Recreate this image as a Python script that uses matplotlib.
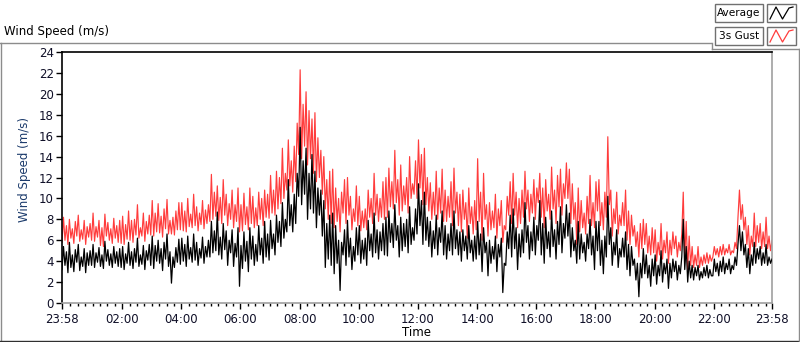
import matplotlib
matplotlib.use("Agg")
import matplotlib.pyplot as plt
from matplotlib.lines import Line2D
from matplotlib.patches import Rectangle
from matplotlib.ticker import FixedLocator

plt.rcParams['font.family'] = ['DejaVu Sans']

# ---- data (one sample every 3 minutes, starting 23:58 of previous day) ----
step_min = 3
start_min = -2

average = [
    3.2, 5.4, 3.6, 4.9, 2.9, 5.8, 3.4, 4.6, 3.0, 5.1, 3.9, 5.6, 3.1, 4.4, 3.5, 5.2, 2.9, 4.8, 3.6, 5.0,
    3.6, 5.6, 3.4, 4.8, 3.9, 5.3, 3.5, 4.6, 3.3, 5.9, 4.0, 5.1, 3.6, 4.7, 3.4, 5.4, 3.8, 4.9, 3.5, 5.2,
    3.4, 5.4, 3.2, 4.7, 3.8, 5.8, 3.6, 4.9, 3.3, 5.2, 3.9, 6.2, 3.5, 4.6, 3.7, 5.5, 3.2, 5.0, 4.1, 5.6,
    3.6, 6.4, 3.3, 5.5, 4.0, 6.0, 3.8, 5.2, 3.1, 5.8, 4.2, 6.6, 3.5, 4.9, 1.9, 4.4, 3.4, 5.3, 3.9, 6.1,
    3.7, 6.2, 4.0, 5.6, 3.5, 6.4, 4.2, 5.3, 3.9, 6.6, 4.1, 5.8, 3.6, 5.2, 4.3, 6.3, 3.8, 5.4, 4.4, 6.0,
    4.4, 7.8, 4.8, 6.9, 5.0, 8.7, 4.6, 6.3, 4.2, 7.6, 5.1, 6.9, 3.6, 6.0, 4.8, 7.0, 3.5, 5.7, 4.4, 7.2,
    1.6, 5.5, 3.3, 6.8, 4.0, 5.9, 3.0, 7.2, 4.2, 6.4, 3.6, 5.6, 4.0, 7.4, 4.6, 6.2, 3.8, 7.8, 4.4, 6.6,
    4.1, 7.9, 5.2, 6.6, 4.6, 8.4, 5.8, 7.8, 5.4, 9.6, 6.2, 8.0, 6.8, 11.8, 7.4, 9.4, 6.8, 10.4, 7.6, 12.4,
    10.2, 16.8, 9.4, 13.6, 10.4, 14.8, 8.0, 12.4, 9.0, 14.2, 8.6, 12.6, 7.2, 11.0, 8.4, 10.8, 6.4, 9.8, 3.4, 7.6,
    4.2, 8.4, 3.6, 8.6, 2.8, 7.4, 3.8, 6.0, 1.2, 5.8, 4.6, 7.0, 3.6, 7.9, 4.4, 6.2, 3.2, 5.4, 4.0, 7.2,
    4.6, 7.4, 3.8, 6.0, 4.2, 6.2, 3.6, 7.9, 5.0, 6.6, 4.4, 8.6, 4.8, 7.0, 4.2, 6.8, 5.0, 7.6, 4.6, 8.2,
    4.5, 8.8, 5.8, 7.6, 5.3, 9.4, 6.0, 7.4, 4.4, 8.2, 5.0, 7.6, 5.4, 8.0, 4.8, 9.2, 5.6, 7.2, 6.0, 9.0,
    6.6, 11.4, 7.4, 9.8, 5.6, 10.6, 6.0, 8.2, 5.4, 7.8, 4.4, 6.9, 5.2, 8.4, 4.6, 7.2, 5.8, 8.8, 4.6, 7.4,
    4.2, 6.6, 5.0, 7.6, 4.6, 8.8, 5.2, 7.0, 4.6, 6.8, 4.0, 7.0, 5.0, 6.4, 4.2, 7.4, 4.8, 6.0, 4.0, 6.4,
    4.2, 7.8, 4.6, 6.6, 3.0, 7.2, 4.8, 5.8, 2.6, 6.0, 3.8, 5.4, 4.2, 6.4, 3.0, 5.6, 4.4, 6.2, 1.0, 3.8,
    3.6, 6.8, 5.2, 8.4, 4.4, 9.0, 5.2, 7.2, 3.2, 6.6, 4.4, 7.0, 4.8, 9.6, 5.8, 7.4, 4.2, 6.8, 5.0, 8.2,
    4.6, 7.4, 6.0, 9.8, 4.6, 7.6, 3.8, 8.2, 5.2, 6.8, 4.4, 8.8, 5.4, 7.0, 4.2, 7.8, 5.6, 9.2, 4.8, 7.6,
    6.2, 9.4, 6.4, 8.6, 4.4, 7.2, 5.0, 6.0, 3.8, 7.8, 4.2, 6.6, 4.8, 5.8, 4.0, 6.6, 5.2, 8.0, 4.6, 6.4,
    3.2, 7.8, 5.0, 7.8, 3.6, 6.0, 2.8, 6.4, 4.4, 10.2, 5.6, 7.2, 3.6, 5.8, 4.6, 7.0, 3.4, 5.2, 4.4, 6.2,
    4.4, 6.8, 3.2, 5.6, 2.6, 5.4, 3.6, 4.2, 2.2, 3.8, 0.6, 3.8, 2.4, 5.2, 2.8, 4.6, 2.4, 3.6, 1.6, 4.2,
    2.6, 4.6, 1.8, 3.6, 2.6, 5.0, 2.0, 3.8, 2.8, 4.2, 1.4, 3.8, 2.4, 4.2, 3.0, 4.0, 2.2, 3.6, 2.8, 4.4,
    8.0, 3.2, 5.4, 2.0, 4.0, 2.4, 3.6, 2.2, 3.4, 2.6, 3.6, 2.2, 3.0, 2.4, 3.4, 2.6, 3.6, 2.4, 3.2, 2.6,
    2.6, 4.2, 3.0, 3.8, 2.6, 4.0, 3.0, 4.4, 2.8, 3.8, 3.2, 4.2, 2.8, 3.6, 3.2, 4.4, 3.6, 5.6, 7.4, 5.0,
    6.8, 4.6, 5.6, 3.4, 5.2, 2.8, 4.6, 3.6, 5.8, 3.8, 5.2, 4.2, 5.4, 3.6, 4.8, 3.8, 5.6, 3.6, 4.4, 3.8, 4.2,
]

gust = [
    5.8, 8.2, 6.0, 7.4, 5.6, 8.0, 6.2, 7.1, 5.7, 7.8, 6.4, 8.4, 5.9, 7.0, 6.1, 7.9, 5.6, 7.3, 6.3, 7.6,
    6.0, 8.6, 5.9, 7.3, 6.3, 7.9, 5.5, 7.2, 5.4, 8.5, 6.4, 7.7, 6.0, 7.1, 5.7, 8.1, 6.2, 7.4, 5.8, 7.9,
    5.7, 8.3, 5.6, 7.5, 6.1, 8.8, 6.0, 7.9, 5.8, 8.0, 6.5, 9.4, 6.2, 7.2, 6.4, 8.6, 5.9, 7.8, 6.6, 8.4,
    6.5, 9.8, 6.4, 8.6, 6.8, 9.5, 6.7, 8.3, 6.3, 9.0, 7.1, 9.9, 6.6, 7.9, 6.6, 8.2, 6.5, 8.8, 7.0, 9.6,
    7.0, 9.6, 6.9, 8.8, 6.8, 10.0, 7.3, 8.5, 7.2, 10.4, 7.4, 9.2, 6.9, 8.6, 7.5, 9.8, 7.1, 8.9, 7.6, 9.4,
    7.8, 12.3, 8.0, 10.6, 8.3, 11.2, 7.9, 10.1, 7.6, 11.8, 8.4, 10.4, 7.4, 9.5, 8.0, 10.8, 7.2, 9.4, 7.8, 11.0,
    6.8, 9.4, 6.9, 10.5, 7.5, 9.2, 7.0, 11.0, 7.6, 10.2, 7.2, 9.1, 7.4, 10.6, 8.0, 10.0, 7.4, 10.8, 8.2, 10.4,
    8.1, 12.2, 8.6, 10.8, 8.4, 12.6, 9.0, 12.0, 9.5, 14.8, 10.0, 12.4, 10.8, 15.6, 11.2, 13.6, 10.6, 15.0, 11.6, 17.2,
    14.2, 22.3, 13.8, 19.0, 15.0, 20.2, 13.2, 18.4, 13.8, 17.6, 12.4, 18.2, 11.6, 15.8, 12.0, 14.6, 10.4, 14.0, 9.0, 11.8,
    8.0, 12.6, 7.6, 12.8, 7.2, 11.0, 7.8, 10.0, 6.8, 10.6, 8.6, 11.8, 7.6, 12.0, 8.4, 10.2, 7.0, 9.0, 7.8, 11.2,
    7.4, 10.2, 6.9, 8.8, 7.2, 9.0, 7.0, 10.8, 8.2, 10.0, 7.6, 12.4, 8.4, 10.4, 7.8, 10.0, 8.2, 11.6, 8.0, 12.0,
    8.2, 12.9, 9.2, 11.6, 9.0, 14.6, 9.6, 11.8, 8.4, 13.2, 8.8, 11.2, 9.4, 12.0, 8.6, 14.0, 10.0, 11.4, 10.4, 13.6,
    10.0, 15.6, 11.0, 14.2, 9.4, 14.8, 9.4, 12.0, 8.8, 11.5, 8.0, 10.6, 8.4, 12.6, 8.0, 11.0, 8.6, 12.8, 7.8, 10.8,
    7.8, 10.2, 8.2, 11.6, 7.4, 12.9, 8.6, 10.6, 7.4, 10.4, 6.8, 10.8, 8.0, 9.6, 6.2, 11.0, 7.6, 9.2, 6.6, 9.8,
    7.0, 13.8, 7.8, 10.6, 6.0, 12.4, 8.0, 9.4, 6.4, 9.6, 7.0, 8.8, 7.2, 10.4, 6.2, 9.0, 7.4, 9.8, 5.8, 7.4,
    7.0, 10.2, 8.4, 11.6, 7.6, 12.4, 8.4, 10.6, 7.2, 10.0, 7.6, 10.8, 8.2, 12.6, 9.0, 10.8, 7.8, 10.4, 8.6, 11.8,
    8.0, 11.0, 9.6, 12.4, 8.2, 11.0, 7.2, 11.8, 8.8, 10.4, 8.0, 13.0, 9.0, 10.8, 7.6, 12.2, 9.2, 12.8, 8.4, 11.4,
    10.0, 13.4, 10.0, 12.8, 7.6, 11.4, 8.0, 9.6, 5.6, 11.0, 6.8, 9.8, 7.2, 8.6, 6.6, 10.2, 7.6, 12.2, 7.4, 9.6,
    7.2, 11.6, 8.8, 11.8, 7.4, 9.6, 7.0, 10.6, 8.2, 15.9, 9.4, 10.8, 6.4, 9.0, 7.6, 10.6, 6.6, 8.4, 7.4, 9.6,
    7.4, 10.8, 6.0, 8.8, 5.6, 8.4, 6.4, 7.4, 5.4, 6.8, 4.4, 7.6, 5.2, 8.0, 5.6, 7.6, 4.8, 6.4, 4.6, 7.2,
    4.8, 7.0, 4.0, 5.8, 4.6, 7.6, 4.2, 6.0, 4.8, 6.8, 3.8, 6.0, 4.6, 6.8, 5.2, 6.4, 4.4, 5.8, 5.0, 6.6,
    10.6, 4.2, 7.8, 3.2, 6.4, 3.6, 5.4, 3.4, 4.6, 3.6, 5.4, 3.4, 4.4, 3.6, 4.6, 3.8, 4.8, 3.8, 4.6, 4.0,
    4.4, 5.4, 4.6, 5.2, 4.4, 5.4, 4.6, 5.6, 4.6, 5.2, 4.8, 5.6, 4.6, 5.0, 4.8, 5.8, 5.2, 8.2, 10.8, 8.0,
    9.4, 7.0, 8.2, 5.6, 7.4, 4.6, 6.4, 5.4, 8.6, 5.4, 7.4, 5.8, 7.6, 5.2, 6.8, 5.4, 8.2, 5.2, 6.4, 5.0, 6.0,
]

x_tick_minutes = [-2, 120, 240, 360, 480, 600, 720, 840, 960, 1080, 1200, 1320, 1438]
x_tick_labels = ["23:58", "02:00", "04:00", "06:00", "08:00", "10:00", "12:00",
                 "14:00", "16:00", "18:00", "20:00", "22:00", "23:58"]
y_ticks = [0, 2, 4, 6, 8, 10, 12, 14, 16, 18, 20, 22, 24]

t_avg = [start_min + step_min * i for i in range(len(average))]
t_gust = [start_min + step_min * i for i in range(len(gust))]

W, H = 800, 342
fig = plt.figure(figsize=(W / 100, H / 100), dpi=100)
fig.patch.set_facecolor('white')

def fx(x):
    return x / W

def fy(y):
    return 1 - y / H

# axes placement (pixels)
L, R, T, B = 62, 772, 51.5, 303
ax = fig.add_axes([fx(L), fy(B), (R - L) / W, (B - T) / H])
ax.set_facecolor('white')

RED = '#ff3c3c'
ax.plot(t_gust, gust, color=RED, lw=0.85, zorder=2)
ax.plot(t_avg, average, color='black', lw=0.9, zorder=3)

ax.set_xlim(-2, 1438)
ax.set_ylim(0, 24.05)

ax.set_yticks(y_ticks)
ax.set_yticklabels([str(v) for v in y_ticks])
ax.set_xticks(x_tick_minutes)
ax.set_xticklabels(x_tick_labels)
minor = [m for m in range(15, 1438, 15) if m not in x_tick_minutes]
ax.xaxis.set_minor_locator(FixedLocator(minor))

tick_col = '#101028'
ax.tick_params(axis='y', which='major', direction='out', length=4, width=1,
               pad=2, labelsize=8.5, colors='black', labelcolor=tick_col)
ax.tick_params(axis='x', which='major', direction='out', length=4, width=1,
               pad=3, labelsize=8.5, colors='black', labelcolor=tick_col)
ax.tick_params(axis='x', which='minor', direction='out', length=2.3, width=1,
               colors='black')

for side in ['left', 'top']:
    ax.spines[side].set_color('black')
    ax.spines[side].set_linewidth(1.2)
for side in ['right', 'bottom']:
    ax.spines[side].set_color('#a0a0a0')
    ax.spines[side].set_linewidth(1.2)

ax.set_ylabel('Wind Speed (m/s)', fontsize=8.5, color='#1b3a6b')
ax.yaxis.set_label_coords(-0.043, 0.53)
ax.set_xlabel('Time', fontsize=8.5, color='black')
ax.xaxis.set_label_coords(0.5, -0.093)

# outer frame
gray = '#8c8c8c'
def hline(x0, x1, y, c, lw=1.0):
    fig.add_artist(Line2D([fx(x0), fx(x1)], [fy(y), fy(y)], color=c, lw=lw))
def vline(x, y0, y1, c, lw=1.0):
    fig.add_artist(Line2D([fx(x), fx(x)], [fy(y0), fy(y1)], color=c, lw=lw))

hline(0, 711, 42.5, gray)
vline(711.5, 42.5, 48.5, gray)
hline(711.5, 800, 48.5, gray)
vline(0.5, 42.5, 341, gray)
hline(0, 800, 340.5, '#303030')
vline(798.5, 48.5, 341, gray)

# title
fig.text(fx(4), fy(31), 'Wind Speed (m/s)', fontsize=8.5, color='black',
         ha='left', va='center')

# legend boxes
def box(x0, y0, x1, y1):
    fig.add_artist(Rectangle((fx(x0), fy(y1)), (x1 - x0) / W, (y1 - y0) / H,
                             facecolor='white', edgecolor='#707070', lw=1.0))

legend_names = ['Average', '3s Gust']
legend_colors = ['black', RED]
for k, (name, col) in enumerate(zip(legend_names, legend_colors)):
    y0 = 4 + k * 23
    y1 = y0 + 18
    box(715, y0, 763, y1)
    box(767, y0, 796, y1)
    fig.text(fx(739), fy((y0 + y1) / 2), name, fontsize=7.6, color='black',
             ha='center', va='center')
    xs = [770, 776, 782.5, 789, 793]
    ys = [y1 - 3, y0 + 3, y1 - 3, y0 + 4, y0 + 3]
    fig.add_artist(Line2D([fx(v) for v in xs], [fy(v) for v in ys],
                          color=col, lw=0.9))

fig.savefig('out.png', dpi=100)
